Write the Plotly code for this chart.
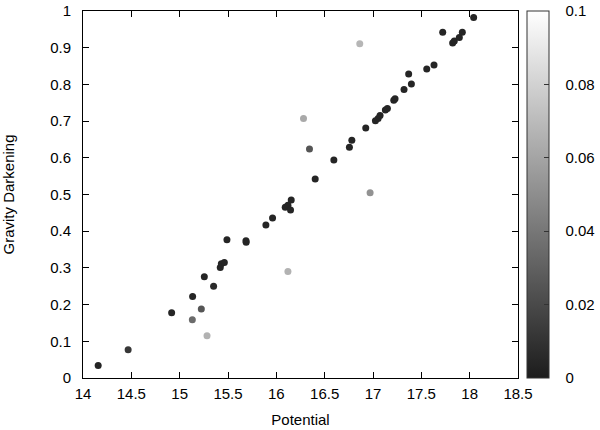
import plotly.graph_objects as go

# potential, gravity darkening, colour value
potential = [14.157, 14.467, 14.917, 15.134, 15.131, 15.224, 15.283, 15.255, 15.351,
             15.420, 15.431, 15.462, 15.489, 15.686, 15.688, 15.892, 15.961, 16.092,
             16.120, 16.154, 16.147, 16.120, 16.281, 16.343, 16.402, 16.595, 16.863,
             16.970, 16.756, 16.781, 16.925, 17.025, 17.053, 17.073, 17.128, 17.149,
             17.215, 17.228, 17.321, 17.369, 17.397, 17.556, 17.631, 17.721, 17.824,
             17.841, 17.893, 17.924, 18.041]
gdark = [0.034, 0.077, 0.178, 0.222, 0.159, 0.188, 0.115, 0.276, 0.250,
         0.301, 0.311, 0.315, 0.377, 0.374, 0.370, 0.417, 0.436, 0.465,
         0.471, 0.485, 0.458, 0.290, 0.707, 0.624, 0.542, 0.594, 0.911,
         0.505, 0.629, 0.648, 0.681, 0.701, 0.707, 0.715, 0.730, 0.734,
         0.757, 0.761, 0.786, 0.828, 0.801, 0.842, 0.853, 0.942, 0.913,
         0.918, 0.928, 0.942, 0.982]
cval = [0.004, 0.012, 0.004, 0.004, 0.035, 0.025, 0.066, 0.004, 0.006,
        0.004, 0.004, 0.004, 0.004, 0.004, 0.004, 0.004, 0.004, 0.004,
        0.004, 0.004, 0.004, 0.066, 0.062, 0.025, 0.004, 0.004, 0.068,
        0.052, 0.004, 0.004, 0.004, 0.004, 0.004, 0.004, 0.004, 0.004,
        0.004, 0.004, 0.004, 0.004, 0.004, 0.004, 0.004, 0.004, 0.004,
        0.004, 0.004, 0.004, 0.004]

cb_ticks = [0, 0.02, 0.04, 0.06, 0.08, 0.1]
cb_labels = ["0", "0.02", "0.04", "0.06", "0.08", "0.1"]

font = dict(family="Liberation Sans, Arial, sans-serif", size=15, color="black")

fig = go.Figure(go.Scatter(
    x=potential, y=gdark, mode="markers",
    marker=dict(size=7, color=cval, cmin=0, cmax=0.1,
                colorscale=[[0, "#1c1c1c"], [1, "#ffffff"]],
                line=dict(width=0),
                colorbar=dict(x=1.021, xanchor="left", y=0.5, yanchor="middle",
                              len=1, lenmode="fraction", thickness=22,
                              outlinecolor="#333", outlinewidth=1,
                              tickvals=cb_ticks,
                              ticktext=["   " + t for t in cb_labels],
                              ticks="inside", ticklen=5, tickcolor="#333",
                              tickfont=font, xpad=0, ypad=0)),
    showlegend=False))

axis = dict(showgrid=False, zeroline=False, showline=True, linecolor="black",
            linewidth=1, mirror="ticks", ticks="inside", ticklen=6,
            tickcolor="black", tickfont=font, automargin=False)

fig.update_layout(
    width=600, height=430,
    margin=dict(l=83, r=82, t=10.5, b=51.5, autoexpand=False),
    plot_bgcolor="white", paper_bgcolor="white",
    font=font,
    xaxis=dict(axis, range=[14, 18.5], dtick=0.5, ticklabelstandoff=2,
               title=dict(text="Potential", font=font, standoff=13)),
    yaxis=dict(axis, range=[0, 1], ticklabelstandoff=8,
               tickvals=[0, 0.1, 0.2, 0.3, 0.4, 0.5, 0.6, 0.7, 0.8, 0.9, 1],
               ticktext=["0", "0.1", "0.2", "0.3", "0.4", "0.5", "0.6", "0.7", "0.8", "0.9", "1"],
               title=dict(text="Gravity Darkening", font=font, standoff=32)),
)

# drop the default body margin so the figure sits at the window corner
fig.write_html("out.html", config={"displayModeBar": False},
               post_script="document.body.style.margin='0';")
